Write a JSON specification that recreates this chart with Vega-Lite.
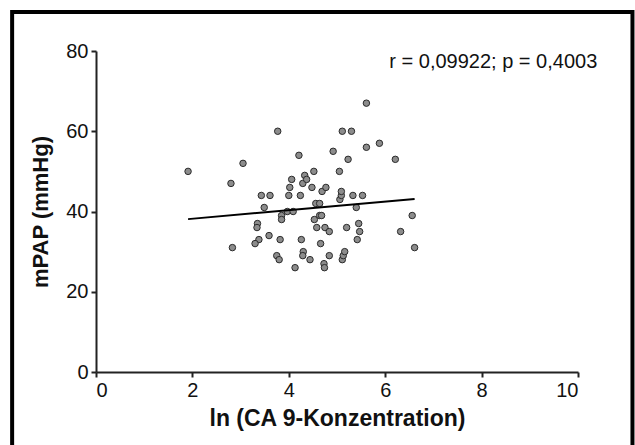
{
  "$schema": "https://vega.github.io/schema/vega-lite/v6.json",
  "width": 482,
  "height": 321,
  "autosize": {"type": "none"},
  "padding": {"left": 96, "top": 51, "right": 57, "bottom": 73},
  "background": "white",
  "config": {
    "view": {"stroke": null},
    "font": "Liberation Sans",
    "axis": {
      "grid": false,
      "domainColor": "#222222",
      "domainWidth": 2,
      "tickColor": "#222222",
      "tickWidth": 2,
      "tickSize": 5,
      "labelFont": "Liberation Sans",
      "labelFontSize": 20,
      "labelColor": "#111111",
      "labelPadding": 3,
      "titleFont": "Liberation Sans",
      "titleFontSize": 22,
      "titleFontWeight": "bold",
      "titleColor": "#111111"
    }
  },
  "datasets": {
    "points": [
      {"ln_ca9": 1.91, "mpap": 50}, {"ln_ca9": 2.80, "mpap": 47}, {"ln_ca9": 3.05, "mpap": 52}, {"ln_ca9": 2.83, "mpap": 31},
      {"ln_ca9": 3.43, "mpap": 44}, {"ln_ca9": 3.61, "mpap": 44}, {"ln_ca9": 3.49, "mpap": 41}, {"ln_ca9": 3.35, "mpap": 37},
      {"ln_ca9": 3.34, "mpap": 36}, {"ln_ca9": 3.38, "mpap": 33}, {"ln_ca9": 3.30, "mpap": 32}, {"ln_ca9": 3.59, "mpap": 34},
      {"ln_ca9": 3.77, "mpap": 60}, {"ln_ca9": 3.75, "mpap": 29}, {"ln_ca9": 3.80, "mpap": 28}, {"ln_ca9": 3.82, "mpap": 33},
      {"ln_ca9": 3.85, "mpap": 39}, {"ln_ca9": 3.85, "mpap": 38}, {"ln_ca9": 3.97, "mpap": 40}, {"ln_ca9": 4.09, "mpap": 40},
      {"ln_ca9": 4.00, "mpap": 44}, {"ln_ca9": 4.02, "mpap": 46}, {"ln_ca9": 4.06, "mpap": 48}, {"ln_ca9": 4.21, "mpap": 54},
      {"ln_ca9": 4.24, "mpap": 44}, {"ln_ca9": 4.29, "mpap": 47}, {"ln_ca9": 4.33, "mpap": 49}, {"ln_ca9": 4.37, "mpap": 48},
      {"ln_ca9": 4.26, "mpap": 33}, {"ln_ca9": 4.30, "mpap": 30}, {"ln_ca9": 4.29, "mpap": 29}, {"ln_ca9": 4.13, "mpap": 26},
      {"ln_ca9": 4.44, "mpap": 28}, {"ln_ca9": 4.48, "mpap": 46}, {"ln_ca9": 4.52, "mpap": 50}, {"ln_ca9": 4.53, "mpap": 38},
      {"ln_ca9": 4.56, "mpap": 42}, {"ln_ca9": 4.58, "mpap": 36}, {"ln_ca9": 4.64, "mpap": 42}, {"ln_ca9": 4.64, "mpap": 39},
      {"ln_ca9": 4.68, "mpap": 39}, {"ln_ca9": 4.69, "mpap": 45}, {"ln_ca9": 4.77, "mpap": 46}, {"ln_ca9": 4.66, "mpap": 32},
      {"ln_ca9": 4.73, "mpap": 27}, {"ln_ca9": 4.74, "mpap": 26}, {"ln_ca9": 4.75, "mpap": 36}, {"ln_ca9": 4.84, "mpap": 35},
      {"ln_ca9": 4.84, "mpap": 29}, {"ln_ca9": 4.92, "mpap": 55}, {"ln_ca9": 5.05, "mpap": 50}, {"ln_ca9": 5.06, "mpap": 43},
      {"ln_ca9": 5.09, "mpap": 44}, {"ln_ca9": 5.09, "mpap": 45}, {"ln_ca9": 5.11, "mpap": 60}, {"ln_ca9": 5.11, "mpap": 28},
      {"ln_ca9": 5.13, "mpap": 29}, {"ln_ca9": 5.16, "mpap": 30}, {"ln_ca9": 5.20, "mpap": 36}, {"ln_ca9": 5.23, "mpap": 53},
      {"ln_ca9": 5.30, "mpap": 60}, {"ln_ca9": 5.33, "mpap": 44}, {"ln_ca9": 5.40, "mpap": 41}, {"ln_ca9": 5.42, "mpap": 33},
      {"ln_ca9": 5.45, "mpap": 37}, {"ln_ca9": 5.47, "mpap": 35}, {"ln_ca9": 5.53, "mpap": 44}, {"ln_ca9": 5.61, "mpap": 67},
      {"ln_ca9": 5.61, "mpap": 56}, {"ln_ca9": 5.88, "mpap": 57}, {"ln_ca9": 6.21, "mpap": 53}, {"ln_ca9": 6.32, "mpap": 35},
      {"ln_ca9": 6.56, "mpap": 39}, {"ln_ca9": 6.61, "mpap": 31}
    ],
    "fit": [
      {"ln_ca9": 1.91, "mpap": 38.1},
      {"ln_ca9": 6.61, "mpap": 43.1}
    ]
  },
  "layer": [
    {
      "data": {"name": "points"},
      "mark": {"type": "point", "shape": "circle", "filled": true, "size": 42, "fill": "#8c8c8c", "stroke": "#2a2a2a", "strokeWidth": 1, "opacity": 1},
      "encoding": {
        "x": {"field": "ln_ca9", "type": "quantitative", "title": "ln (CA 9-Konzentration)", "scale": {"domain": [0, 10], "nice": false, "zero": false}, "axis": {"values": [0, 2, 4, 6, 8, 10], "titlePadding": 7, "labelFontSize": 20, "titleFontSize": 23}},
        "y": {"field": "mpap", "type": "quantitative", "title": "mPAP (mmHg)", "scale": {"domain": [0, 80], "nice": false, "zero": false}, "axis": {"values": [0, 20, 40, 60, 80], "titlePadding": 13, "labelFontSize": 20, "titleFontSize": 22}}
      }
    },
    {
      "data": {"name": "fit"},
      "mark": {"type": "line", "color": "black", "strokeWidth": 2},
      "encoding": {
        "x": {"field": "ln_ca9", "type": "quantitative", "title": "ln (CA 9-Konzentration)", "scale": {"domain": [0, 10], "nice": false, "zero": false}, "axis": {"values": [0, 2, 4, 6, 8, 10], "titlePadding": 7, "labelFontSize": 20, "titleFontSize": 23}},
        "y": {"field": "mpap", "type": "quantitative", "title": "mPAP (mmHg)", "scale": {"domain": [0, 80], "nice": false, "zero": false}, "axis": {"values": [0, 20, 40, 60, 80], "titlePadding": 13, "labelFontSize": 20, "titleFontSize": 22}}
      }
    },
    {
      "data": {"values": [{}]},
      "mark": {"type": "rect", "filled": false, "stroke": "black", "strokeWidth": 4, "clip": false},
      "encoding": {
        "x": {"datum": -1.74, "type": "quantitative", "title": "ln (CA 9-Konzentration)", "scale": {"domain": [0, 10], "nice": false, "zero": false}, "axis": {"values": [0, 2, 4, 6, 8, 10], "titlePadding": 7, "labelFontSize": 20, "titleFontSize": 23}},
        "x2": {"datum": 11.13},
        "y": {"datum": 89.7, "type": "quantitative", "title": "mPAP (mmHg)", "scale": {"domain": [0, 80], "nice": false, "zero": false}, "axis": {"values": [0, 20, 40, 60, 80], "titlePadding": 13, "labelFontSize": 20, "titleFontSize": 22}},
        "y2": {"datum": -20}
      }
    },
    {
      "data": {"values": [{}]},
      "mark": {"type": "text", "align": "right", "baseline": "middle", "fontSize": 20, "font": "Liberation Sans", "color": "#111111", "clip": false},
      "encoding": {
        "x": {"datum": 10.4, "type": "quantitative", "title": "ln (CA 9-Konzentration)", "scale": {"domain": [0, 10], "nice": false, "zero": false}, "axis": {"values": [0, 2, 4, 6, 8, 10], "titlePadding": 7, "labelFontSize": 20, "titleFontSize": 23}},
        "y": {"datum": 77.3, "type": "quantitative", "title": "mPAP (mmHg)", "scale": {"domain": [0, 80], "nice": false, "zero": false}, "axis": {"values": [0, 20, 40, 60, 80], "titlePadding": 13, "labelFontSize": 20, "titleFontSize": 22}},
        "text": {"value": "r = 0,09922; p = 0,4003"}
      }
    }
  ]
}
